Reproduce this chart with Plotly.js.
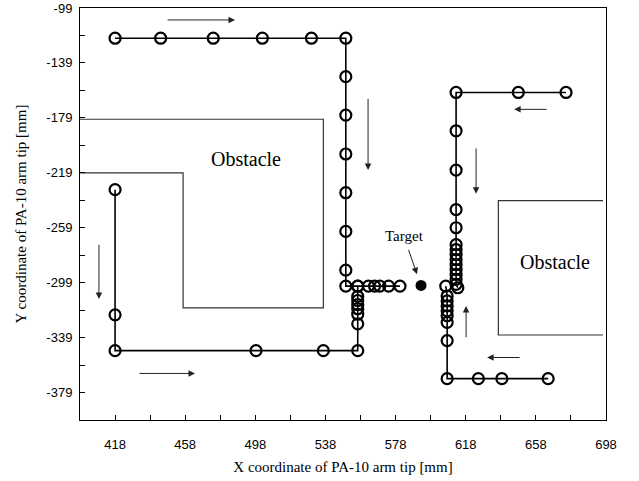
<!DOCTYPE html>
<html>
<head>
<meta charset="utf-8">
<script src="https://cdn.plot.ly/plotly-3.0.1.min.js"></script>
<style>html,body{margin:0;padding:0;background:#fff;}#chart{width:639px;height:481px;}</style>
</head>
<body>
<div id="chart"></div>
<script>
// Tick labels
var xTickVals = [418, 458, 498, 538, 578, 618, 658, 698];
var yTickVals = [-99, -139, -179, -219, -259, -299, -339, -379];

// Path from top-left start
var pathAX = [418, 444, 474, 502, 530, 549.6, 549.6, 549.6, 549.6, 549.6, 549.6, 549.6, 549.6, 556.4, 562.5, 566, 569, 574, 580.5];
var pathAY = [-121, -121, -121, -121, -121, -121, -149, -177, -205.3, -233.5, -261.7, -289.9, -301.5, -301.5, -301.5, -301.5, -301.5, -301.5, -301.5];

// Path from left start
var pathBX = [418, 418, 418, 498.4, 536.8, 556.4, 556.4, 556.4, 556.4, 556.4, 556.4, 556.4, 556.4];
var pathBY = [-231.3, -322.4, -348.5, -348.5, -348.5, -348.5, -329, -322, -318, -315, -312, -309, -301.5];

// Path from top-right start
var pathCX = [675.2, 648, 612.5, 612.5, 612.5, 612.5, 612.5, 612.5, 612.5, 612.5, 612.5, 612.5, 612.5, 612.5, 612.5, 612.5, 613.5];
var pathCY = [-160.5, -160.5, -160.5, -188.4, -217, -245.8, -259, -271.3, -274.9, -278.5, -282.2, -285.8, -289.4, -293, -296.6, -300.2, -302.7];

// Path from bottom-right start
var pathDX = [665, 638.6, 625.2, 607.4, 607.4, 607.4, 607.4, 607.4, 607.4, 607.4, 607.4, 606.6];
var pathDY = [-368.9, -368.9, -368.9, -368.9, -341.2, -327.9, -323.1, -319.5, -315.9, -312.3, -308.7, -301.5];

// Target
var targetX = [592.5];
var targetY = [-301];

// Obstacles
var obstacle1X = [398, 536.8, 536.8, 456.8, 456.8, 398];
var obstacle1Y = [-180, -180, -317.4, -317.4, -219, -219];
var obstacle2X = [696.3, 636.6, 636.6, 696.3];
var obstacle2Y = [-239.3, -239.3, -337.1, -337.1];

// Direction arrows: [xFrom, yFrom, xTo, yTo]
var arrows = [
  [447.1, -107.7, 486.4, -107.7],
  [562.3, -164.1, 562.3, -216.9],
  [408.8, -270.4, 408.8, -310.9],
  [431.1, -365.1, 463.6, -365.1],
  [623.9, -200.2, 623.9, -234.2],
  [665.0, -172.8, 645.6, -172.8],
  [618.2, -339.8, 618.2, -315.9],
  [649.6, -353.5, 630.2, -353.5],
  [585.1, -274.0, 590.2, -292.8]
];

var pathStyle = {
  mode: 'lines+markers',
  line: {color: '#000', width: 1.6},
  marker: {symbol: 'circle-open', size: 11, color: '#000', line: {width: 2.2, color: '#000'}},
  hoverinfo: 'skip', showlegend: false
};
function path(x, y) { return Object.assign({type: 'scatter', x: x, y: y}, JSON.parse(JSON.stringify(pathStyle))); }

var traces = [
  {type: 'scatter', x: obstacle1X, y: obstacle1Y, mode: 'lines', line: {color: '#333', width: 1.2}, showlegend: false, hoverinfo: 'skip'},
  {type: 'scatter', x: obstacle2X, y: obstacle2Y, mode: 'lines', line: {color: '#333', width: 1.2}, showlegend: false, hoverinfo: 'skip'},
  path(pathAX, pathAY),
  path(pathBX, pathBY),
  path(pathCX, pathCY),
  path(pathDX, pathDY),
  {type: 'scatter', x: targetX, y: targetY, mode: 'markers', marker: {symbol: 'circle', size: 11, color: '#000'}, showlegend: false, hoverinfo: 'skip'}
];

var annotations = arrows.map(function (a) {
  return {x: a[2], y: a[3], ax: a[0], ay: a[1], xref: 'x', yref: 'y', axref: 'x', ayref: 'y',
    text: '', showarrow: true, arrowhead: 2, arrowsize: 1.3, arrowwidth: 1, arrowcolor: '#222'};
});
var serif = 'Liberation Serif, Times New Roman, serif';
annotations.push({x: 492.7, y: -208.9, xref: 'x', yref: 'y', text: 'Obstacle', showarrow: false, font: {family: serif, size: 20, color: '#000'}});
annotations.push({x: 668.9, y: -284.1, xref: 'x', yref: 'y', text: 'Obstacle', showarrow: false, font: {family: serif, size: 20, color: '#000'}});
annotations.push({x: 582.8, y: -265.3, xref: 'x', yref: 'y', text: 'Target', showarrow: false, font: {family: serif, size: 15, color: '#000'}});

var axisCommon = {
  showgrid: false, zeroline: false, showline: true, linecolor: '#000', linewidth: 1, mirror: true,
  ticks: 'inside', ticklen: 5, tickcolor: '#000', tickwidth: 1,
  tickfont: {family: 'Liberation Sans, Arial, sans-serif', size: 13, color: '#000'},
  tickmode: 'array', ticklabeloverflow: 'allow',
  minor: {dtick: 20, ticks: 'inside', ticklen: 5, tickcolor: '#000', tickwidth: 1, showgrid: false}
};

var layout = {
  width: 639, height: 481,
  margin: {l: 80, r: 33, t: 8, b: 61},
  paper_bgcolor: '#fff', plot_bgcolor: '#fff',
  xaxis: Object.assign({}, axisCommon, {
    range: [398, 698], tickvals: xTickVals, ticktext: xTickVals.map(String),
    minor: Object.assign({}, axisCommon.minor, {tick0: 398}),
    ticklabelstandoff: 12,
    title: {text: 'X coordinate of PA-10 arm tip [mm]', font: {family: serif, size: 15, color: '#000'}, standoff: 10}
  }),
  yaxis: Object.assign({}, axisCommon, {
    range: [-399, -99], tickvals: yTickVals, ticktext: yTickVals.map(String),
    minor: Object.assign({}, axisCommon.minor, {tick0: -399}),
    ticklabelstandoff: 4,
    title: {text: 'Y coordinate of PA-10 arm tip [mm]', font: {family: serif, size: 15, color: '#000'}, standoff: 16}
  }),
  annotations: annotations
};

Plotly.newPlot('chart', traces, layout, {staticPlot: true, displayModeBar: false});
</script>
</body>
</html>
